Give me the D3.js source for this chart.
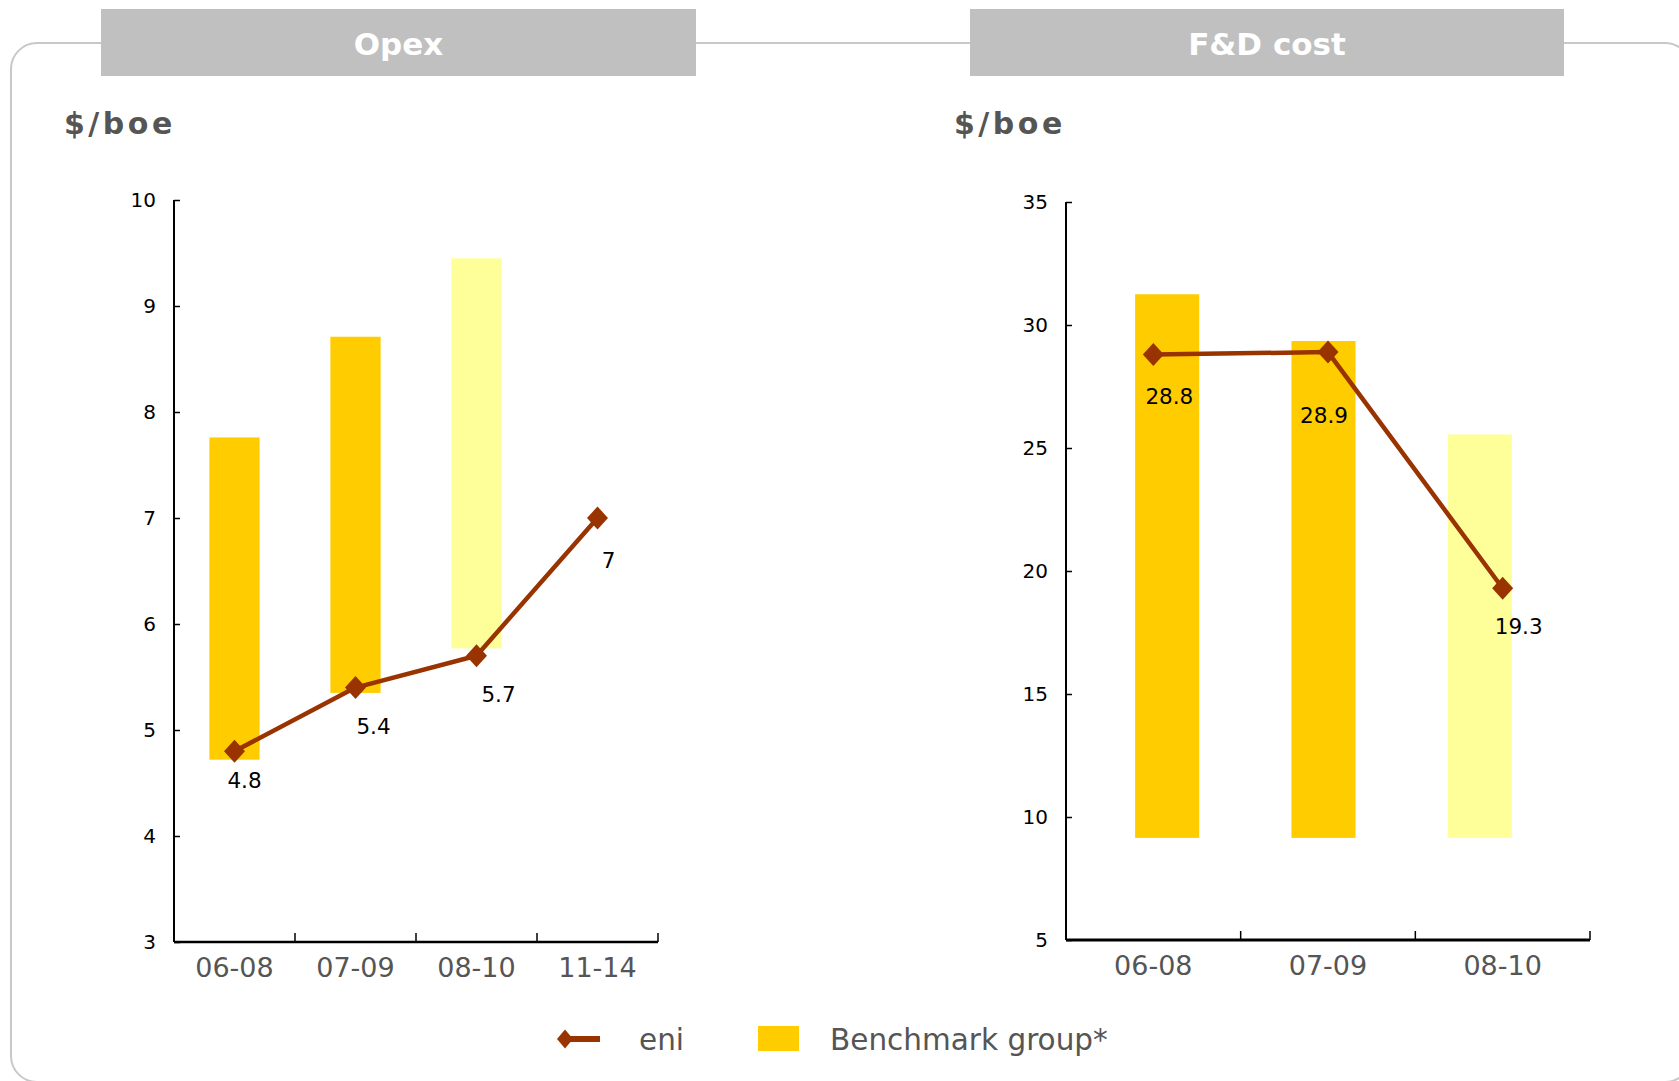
<!DOCTYPE html>
<html>
<head>
<meta charset="utf-8">
<script src="https://cdn.jsdelivr.net/npm/d3@7"></script>
<style>
  html, body { margin: 0; padding: 0; background: #fff; }
  svg { display: block; font-family: "DejaVu Sans", Verdana, sans-serif; }
</style>
</head>
<body>
<svg id="chart" width="1679" height="1081"></svg>
<script>
// ---- data ----
const opexPeriods = ["06-08", "07-09", "08-10", "11-14"];
const opexEni = [4.8, 5.4, 5.7, 7];
const opexBenchPeriods = ["06-08", "07-09", "08-10"];
const opexBenchLow = [4.72, 5.35, 5.77];
const opexBenchHigh = [7.76, 8.71, 9.45];
const opexTicks = [3, 4, 5, 6, 7, 8, 9, 10];

const fdPeriods = ["06-08", "07-09", "08-10"];
const fdEni = [28.8, 28.9, 19.3];
const fdBenchLow = [9.15, 9.15, 9.15];
const fdBenchHigh = [31.25, 29.35, 25.55];
const fdTicks = [5, 10, 15, 20, 25, 30, 35];

const legendLabels = ["eni", "Benchmark group*"];

// ---- styles ----
const ENI = "#993300";
const BENCH = "#ffcc00";
const BENCH_LATEST = "#ffff99";
const GREY_TEXT = "#555555";

const svg = d3.select("#chart");

// outer rounded frame (runs off the right edge)
svg.append("rect")
  .attr("x", 11).attr("y", 43).attr("width", 1680).attr("height", 1039)
  .attr("rx", 26).attr("ry", 26)
  .attr("fill", "none").attr("stroke", "#c8c8c8").attr("stroke-width", 2);

// diamond marker centred on the origin
function diamond(sel, hw, hh) {
  return sel.append("path")
    .attr("d", `M0,${-hh}L${hw},0L0,${hh}L${-hw},0Z`)
    .attr("fill", ENI);
}

function panel(cfg) {
  const g = svg.append("g");

  // header tab
  g.append("rect")
    .attr("x", cfg.tab[0]).attr("y", 9)
    .attr("width", cfg.tab[1] - cfg.tab[0]).attr("height", 67)
    .attr("fill", "#c0c0c0");
  g.append("text")
    .attr("x", (cfg.tab[0] + cfg.tab[1]) / 2).attr("y", 55)
    .attr("text-anchor", "middle")
    .attr("font-size", 31).attr("font-weight", "bold").attr("fill", "#fff")
    .text(cfg.title);

  // unit
  g.append("text")
    .attr("x", cfg.unitX).attr("y", 134)
    .attr("font-size", 30).attr("font-weight", "bold").attr("fill", GREY_TEXT)
    .attr("letter-spacing", 3.5)
    .text("$/boe");

  const x = d3.scaleBand().domain(cfg.periods).range([cfg.left, cfg.right]);
  const xBars = d3.scaleBand().domain(cfg.benchPeriods)
    .range(cfg.barRange || [cfg.left, cfg.left + x.bandwidth() * cfg.benchPeriods.length])
    .paddingInner(cfg.barPad).paddingOuter(cfg.barPad / 2);
  const y = d3.scaleLinear().domain(cfg.domain).range([cfg.bottom, cfg.top]);

  // benchmark range bars
  g.selectAll("rect.bench")
    .data(cfg.benchPeriods)
    .join("rect")
    .attr("class", "bench")
    .attr("x", d => xBars(d))
    .attr("width", xBars.bandwidth())
    .attr("y", (d, i) => y(cfg.benchHigh[i]))
    .attr("height", (d, i) => y(cfg.benchLow[i]) - y(cfg.benchHigh[i]))
    .attr("fill", (d, i) => i === cfg.benchPeriods.length - 1 ? BENCH_LATEST : BENCH);

  // y axis
  const yAxis = g.append("g")
    .attr("transform", `translate(${cfg.left},0)`)
    .call(d3.axisLeft(y).tickValues(cfg.ticks).tickSize(-6).tickPadding(18).tickFormat(d3.format("d")));
  yAxis.select(".domain").attr("stroke", "#000").attr("stroke-width", 2).attr("d", `M0,${cfg.top}V${cfg.bottom}`);
  yAxis.selectAll(".tick line").attr("stroke", "#000").attr("stroke-width", 1.5);
  yAxis.selectAll(".tick text").attr("font-size", 20).attr("fill", "#000")
    .attr("font-family", "DejaVu Sans, Verdana, sans-serif");

  // x axis with ticks between categories
  const xAxis = g.append("g").attr("transform", `translate(0,${cfg.bottom})`);
  xAxis.append("line")
    .attr("x1", cfg.left).attr("x2", cfg.right)
    .attr("stroke", "#000").attr("stroke-width", cfg.xAxisWidth);
  xAxis.selectAll("line.sep")
    .data(cfg.periods)
    .join("line")
    .attr("class", "sep")
    .attr("x1", d => x(d) + x.bandwidth()).attr("x2", d => x(d) + x.bandwidth())
    .attr("y1", 0).attr("y2", -9)
    .attr("stroke", "#000").attr("stroke-width", 1.5);
  xAxis.selectAll("text")
    .data(cfg.periods)
    .join("text")
    .attr("x", d => x(d) + x.bandwidth() / 2)
    .attr("y", 35)
    .attr("text-anchor", "middle")
    .attr("font-size", 27).attr("fill", GREY_TEXT)
    .text(d => d);

  // eni line
  const pts = cfg.periods.map((p, i) => [x(p) + x.bandwidth() / 2, y(cfg.eni[i])]);
  g.append("path")
    .attr("d", d3.line()(pts))
    .attr("fill", "none").attr("stroke", ENI).attr("stroke-width", 4.5)
    .attr("stroke-linejoin", "round");
  pts.forEach(p => diamond(g, 10.5, 11.5).attr("transform", `translate(${p[0]},${p[1]})`));

  // value labels
  g.selectAll("text.val")
    .data(cfg.eni)
    .join("text")
    .attr("class", "val")
    .attr("x", (d, i) => pts[i][0] + cfg.labelNudge[i][0])
    .attr("y", (d, i) => pts[i][1] + cfg.labelNudge[i][1])
    .attr("text-anchor", "middle").attr("dominant-baseline", "central")
    .attr("font-size", 21.5).attr("fill", "#000")
    .text(d => d);
}

panel({
  title: "Opex", tab: [101, 696], unitX: 64,
  periods: opexPeriods, benchPeriods: opexBenchPeriods,
  eni: opexEni, benchLow: opexBenchLow, benchHigh: opexBenchHigh,
  domain: [3, 10], ticks: opexTicks,
  left: 174, right: 658, top: 200, bottom: 942,
  barPad: 0.585, xAxisWidth: 2.5,
  labelNudge: [[10, 29], [18, 39], [22, 39], [11, 42]]
});

panel({
  title: "F&D cost", tab: [970, 1564], unitX: 954,
  periods: fdPeriods, benchPeriods: fdPeriods,
  eni: fdEni, benchLow: fdBenchLow, benchHigh: fdBenchHigh,
  domain: [5, 35], ticks: fdTicks,
  left: 1066, right: 1590, top: 202, bottom: 940,
  barRange: [1089, 1558], barPad: 0.59, xAxisWidth: 3,
  labelNudge: [[16, 42], [-4, 63], [16, 38]]
});

// legend
const lg = svg.append("g");
lg.append("line")
  .attr("x1", 566).attr("x2", 600).attr("y1", 1039).attr("y2", 1039)
  .attr("stroke", ENI).attr("stroke-width", 6);
diamond(lg, 8, 9.5).attr("transform", "translate(565,1039)");
lg.append("text")
  .attr("x", 639).attr("y", 1050)
  .attr("font-size", 29.5).attr("fill", GREY_TEXT)
  .text(legendLabels[0]);
lg.append("rect")
  .attr("x", 758).attr("y", 1026).attr("width", 41).attr("height", 25)
  .attr("fill", BENCH);
lg.append("text")
  .attr("x", 830).attr("y", 1050)
  .attr("font-size", 29.5).attr("fill", GREY_TEXT)
  .text(legendLabels[1]);
</script>
</body>
</html>
